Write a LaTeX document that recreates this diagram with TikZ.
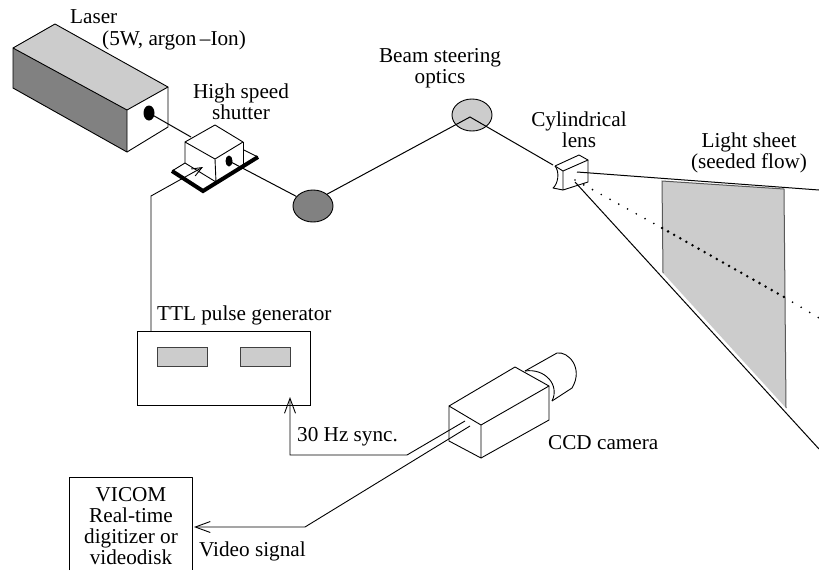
\documentclass[tikz,border=0pt]{standalone}
\usepackage{fontspec}
\setmainfont{Liberation Serif}
\usetikzlibrary{arrows.meta, calc, shapes.geometric}
\definecolor{sheetgray}{gray}{0.8}
\definecolor{darkgray}{gray}{0.45}
\tikzset{
    edge/.style={draw=black, line width=0.9pt, line join=round},
    beam/.style={draw=black, line width=1pt},
    label/.style={font=\fontsize{21.2}{21}\selectfont, inner sep=0pt, align=center},
    mirror/.style={ellipse, draw=black, line width=0.9pt, minimum width=40pt, minimum height=32pt, inner sep=0pt},
    hole/.style={ellipse, fill=black, inner sep=0pt},
    panel/.style={draw=black!75, line width=0.9pt, fill=sheetgray, minimum width=50pt, minimum height=19pt, inner sep=0pt},
    signal/.style={draw=black, line width=0.9pt, -{Straight Barb[length=15pt,width=11pt]}},
    dots/.style={draw=black, line cap=round, line width=1.9pt, dash pattern=on 0pt off 10pt}
}

\begin{document}
\begin{tikzpicture}[x=1pt, y=-1pt]
    \useasboundingbox (0,0) rectangle (819,571);

    % Laser
    \coordinate (la) at (55,24);
    \coordinate (lb) at (13,48);
    \coordinate (lc) at (127,110);
    \coordinate (ld) at (168,87);
    \coordinate (le) at (13,88);
    \coordinate (lf) at (127,152);
    \coordinate (lg) at (168,127);
    \fill[sheetgray] (la) -- (lb) -- (lc) -- (ld) -- cycle;
    \fill[darkgray!90] (lb) -- (lc) -- (lf) -- (le) -- cycle;
    \draw[edge] (lb) -- (la) -- (ld) -- (lc) -- (lb) -- (le) -- (lf) -- (lc);
    \draw[edge] (ld) -- (lg) -- (lf);
    \node[hole, minimum width=11pt, minimum height=15pt] (laserhole) at (149,113) {};

    % Shutter
    \coordinate (sa) at (215,125);
    \coordinate (sb) at (185,142);
    \coordinate (sc) at (215,159);
    \coordinate (sd) at (243,142);
    \coordinate (se) at (185,163);
    \coordinate (sf) at (216,182);
    \coordinate (sg) at (243,168);
    \coordinate (pa) at (172,171);
    \coordinate (pb) at (203,191);
    \coordinate (pc) at (258,157);
    \coordinate (pd) at (244,150);
    \coordinate (beamin) at (191,137);
    \draw[edge] (se) -- (pa);
    \draw[edge] (pd) -- (pc);
    \draw[line width=4pt, miter limit=2] (pa) -- (pb) -- (pc);
    \draw[edge] (sb) -- (sa) -- (sd) -- (sc) -- (sb) -- (se) -- (sf) -- (sc);
    \draw[edge] (sd) -- (sg);
    \draw[edge] (sf) -- (sg);
    \node[hole, minimum width=7pt, minimum height=11pt] (shutterhole) at (229,161) {};

    % Mirrors
    \node[mirror, fill=darkgray!90] (mirrorone) at (313,206) {};
    \node[mirror, fill=sheetgray] (mirrortwo) at (472,115) {};

    % Light sheet
    \coordinate (ta) at (662,181);
    \coordinate (tb) at (784,189);
    \coordinate (tc) at (786,408);
    \coordinate (td) at (663,273);
    \fill[sheetgray] (ta) -- (tb) -- (tc) -- (td) -- cycle;
    \draw[line width=1pt, draw=black!65] (td) -- (ta) -- (tb) -- (tc);

    % Lens
    \coordinate (ca) at (555,166);
    \coordinate (cb) at (579,155);
    \coordinate (cc) at (588,160);
    \coordinate (cd) at (563,171);
    \coordinate (ce) at (588,182);
    \coordinate (cf) at (563,190);
    \coordinate (cg) at (553,188);
    \coordinate (rayin) at (553,165);
    \coordinate (raytop) at (577,172);
    \coordinate (raymid) at (575,180);
    \coordinate (raylow) at (575,182);
    \coordinate (raytopend) at (819,190);
    \coordinate (raymidend) at (819,318);
    \coordinate (raylowend) at (819,449);
    \coordinate (dotin) at (662,228);
    \coordinate (dotout) at (784,297);
    \draw[edge] (ca) -- (cb) -- (cc) -- (cd) -- (ca);
    \draw[edge] (cc) -- (ce) -- (cf) -- (cd);
    \draw[edge] (ca) .. controls (560,172) and (558,184) .. (cg) -- (cf);

    % Beam path
    \draw[beam] (laserhole.center) -- (beamin);
    \draw[beam] (shutterhole.center) -- (mirrorone.150);
    \draw[beam] (mirrorone.40) -- (470,117) coordinate (peak) -- (rayin);
    \draw[beam] (raytop) -- (raytopend);
    \draw[beam] (raylow) -- (raylowend);
    \draw[dots] (raymid) -- (dotin);
    \draw[dots, line width=2.8pt, dash pattern=on 0pt off 7pt] (dotin) -- (dotout);
    \draw[dots] (dotout) -- (raymidend);

    % Pulse generator
    \node[draw=black, line width=0.9pt, minimum width=173pt, minimum height=74pt, inner sep=0pt] (ttl) at (223.5,368) {};
    \node[panel] (panelleft) at (182,356.5) {};
    \node[panel] (panelright) at (265,356.5) {};
    \coordinate (ttlout) at (151,331);
    \coordinate (ttlbend) at (151,196);
    \coordinate (shuttertip) at (203,167);
    \draw[draw=black, line width=0.9pt, -{Straight Barb[length=10pt,width=8pt]}] (ttlout) -- (ttlbend) -- (shuttertip);

    % Camera
    \coordinate (ma) at (449,406);
    \coordinate (mb) at (481,425);
    \coordinate (mc) at (481,458);
    \coordinate (md) at (449,441);
    \coordinate (me) at (515,367);
    \coordinate (mf) at (549,386);
    \coordinate (mg) at (549,420);
    \coordinate (na) at (525,371);
    \coordinate (nb) at (557,353);
    \coordinate (nc) at (572,388);
    \coordinate (nd) at (552,401);
    \draw[edge] (ma) -- (mb) -- (mc) -- (md) -- cycle;
    \draw[edge] (ma) -- (me) -- (mf) -- (mb);
    \draw[edge] (mf) -- (mg) -- (mc);
    \draw[edge] (na) -- (nb) .. controls (568,351) and (584,368) .. (nc) -- (nd);
    \draw[edge] (na) .. controls (545,368) and (560,385) .. (nd);

    % Signal cables
    \coordinate (syncstart) at (465,421);
    \coordinate (syncbend) at (407,455);
    \coordinate (syncdown) at (290,455);
    \coordinate (synctip) at (290,397);
    \coordinate (videostart) at (470,426);
    \coordinate (videobend) at (305,527);
    \coordinate (videotip) at (194,527);
    \draw[signal] (syncstart) -- (syncbend) -- (syncdown) -- (synctip);
    \draw[signal] (videostart) -- (videobend) -- (videotip);

    % Display box, cut off at the bottom
    \coordinate (va) at (69,570);
    \coordinate (vb) at (69,477);
    \coordinate (vc) at (192,477);
    \coordinate (vd) at (192,570);
    \draw[edge] (va) -- (vb) -- (vc) -- (vd);

    % Labels
    \node[label, anchor=west] (laserlabel) at (70,17) {Laser};
    \node[label, anchor=west] (powerlabel) at (102,40) {(5W, argon\,--Ion)};
    \node[label] (shutterlabel) at (241,102) {High speed\\shutter};
    \node[label] (steerlabel) at (440,68) {Beam steering\\optics};
    \node[label] (lenslabel) at (579,130) {Cylindrical\\lens};
    \node[label] (sheetlabel) at (749,153) {Light sheet\\(seeded flow)};
    \node[label, anchor=west] (ttllabel) at (157,315) {TTL pulse generator};
    \node[label, anchor=west] (synclabel) at (297,437) {30 Hz sync.};
    \node[label, anchor=west] (ccdlabel) at (548,443) {CCD camera};
    \node[label, anchor=west] (videolabel) at (199,551) {Video signal};
    \node[label] (vicomlabel) at (131,526) {VICOM\\Real-time\\digitizer or\\videodisk};
\end{tikzpicture}
\end{document}
